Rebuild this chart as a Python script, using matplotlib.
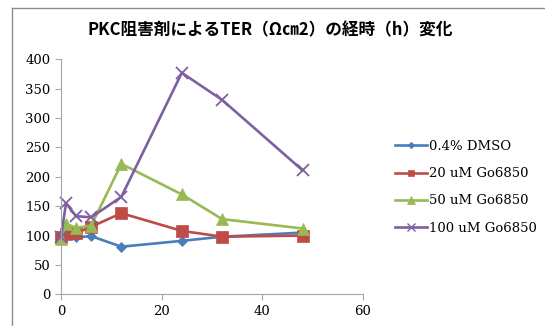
import matplotlib
matplotlib.use('Agg')
from matplotlib import pyplot as plt
from matplotlib.lines import Line2D

# data
hours = [0, 1, 3, 6, 12, 24, 32, 48]
dmso = [100, 100, 97, 99, 81, 91, 98, 105]
go20 = [97, 103, 104, 115, 138, 108, 98, 100]
go50 = [94, 120, 113, 117, 222, 170, 128, 112]
go100 = [98, 155, 133, 131, 166, 377, 331, 211]
labels = ['0.4% DMSO', '20 uM Go6850', '50 uM Go6850', '100 uM Go6850']
title = 'PKC阻害剤によるTER（Ω㎝2）の経時（h）変化'

colors = ['#4A7EBB', '#BE4B48', '#98B954', '#7D60A0']
markers = ['D', 's', '^', 'x']
msizes = [5.5, 8, 8.5, 8.5]

fig = plt.figure(figsize=(5.45, 3.26), dpi=100)
ax = fig.add_axes([61/545, 1 - 294.3/326, (363-61)/545, (294.3-59.3)/326])

series = [dmso, go20, go50, go100]
for i in range(4):
    ax.plot(hours, series[i], color=colors[i], marker=markers[i], ms=msizes[i],
            lw=1.9, mew=1.3 if markers[i] == 'x' else 0.5,
            mec=colors[i], label=labels[i], clip_on=False)

ax.set_xlim(0, 60)
ax.set_ylim(0, 400)
ax.set_xticks([0, 20, 40, 60])
ax.set_yticks(range(0, 401, 50))
for s in ['top', 'right']:
    ax.spines[s].set_visible(False)
for s in ['left', 'bottom']:
    ax.spines[s].set_color('#A6A6A6')
ax.tick_params(colors='#A6A6A6', labelcolor='black', length=4, direction='out')
for t in ax.get_xticklabels() + ax.get_yticklabels():
    t.set_fontfamily('DejaVu Serif')
    t.set_fontsize(9.5)

fig.text(270/545, 1 - 30/326, title, ha='center', va='center', fontsize=12,
         fontweight='bold', family=['Noto Sans CJK JP', 'DejaVu Sans'])

# legend
handles = [Line2D([0], [0], color=colors[i], marker=markers[i], lw=1.9,
                  ms=msizes[i]*0.6, mew=1 if markers[i] == 'x' else 0.5,
                  mec=colors[i]) for i in range(4)]
fig.legend(handles, labels, loc='upper left', bbox_to_anchor=(383/545, 1 - 128/326),
           frameon=False, prop={'family': 'DejaVu Serif', 'size': 9.5},
           handlelength=2.4, handletextpad=0.2, labelspacing=1.08)

# frame of the chart area (partly cut off)
fig.add_artist(Line2D([12/545, 12/545], [0, 1 - 8/326], color='#8C8C8C', lw=1))
fig.add_artist(Line2D([12/545, 1], [1 - 8/326, 1 - 8/326], color='#8C8C8C', lw=1))

fig.savefig('out.png', dpi=100)
